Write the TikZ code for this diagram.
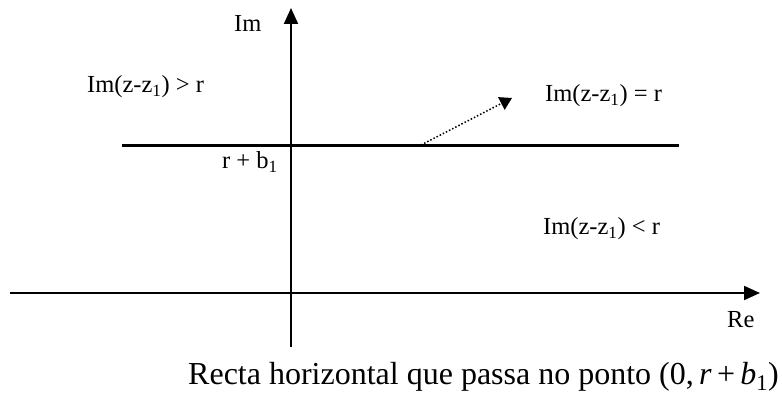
\documentclass[tikz,border=0pt]{standalone}
\usepackage{fontspec}
\setmainfont{Liberation Serif}
\usetikzlibrary{arrows.meta, positioning}

\begin{document}
\begin{tikzpicture}[
  x=1pt, y=-1pt,
  axis/.style={line width=2pt, -{Triangle[length=16pt, width=14pt]}},
  lbl/.style={font=\fontsize{24.5}{28}\selectfont, anchor=base west, inner sep=0pt},
]
  \useasboundingbox (0,0) rectangle (782,398);

  % axes
  \coordinate (ybot) at (291, 347);
  \coordinate (ytop) at (291, 8);
  \coordinate (xleft) at (10, 293);
  \coordinate (xright) at (760, 293);
  \draw[axis] (ybot) -- (ytop);
  \draw[axis] (xleft) -- (xright);

  % the line Im(z) = r + b1
  \coordinate (lleft) at (122, 146);
  \coordinate (lright) at (679, 146);
  \coordinate (foot) at (421, 145);
  \coordinate (tip) at (512, 98);
  \draw[line width=3pt] (lleft) -- (lright);
  \draw[line width=1.5pt, dotted, -{Triangle[length=12pt, width=14pt]}] (foot) -- (tip);

  \node[lbl] (im) at (234, 32) {Im};
  \node[lbl] (re) at (727, 327) {Re};
  \node[lbl] (above) at (87, 93) {Im(z-z\textsubscript{1}) > r};
  \node[lbl] (equal) at (545, 102) {Im(z-z\textsubscript{1}) = r};
  \node[lbl] (below) at (543, 235) {Im(z-z\textsubscript{1}) < r};
  \node[lbl] (rb) at (222, 169) {r + b\textsubscript{1}};

  \node[font=\fontsize{32}{36}\selectfont, anchor=base west, inner sep=0pt] (caption) at (188, 384)
    {Recta horizontal que passa no ponto (0,\,\textit{r}\,+\,\textit{b}\textsubscript{1})};
\end{tikzpicture}
\end{document}
